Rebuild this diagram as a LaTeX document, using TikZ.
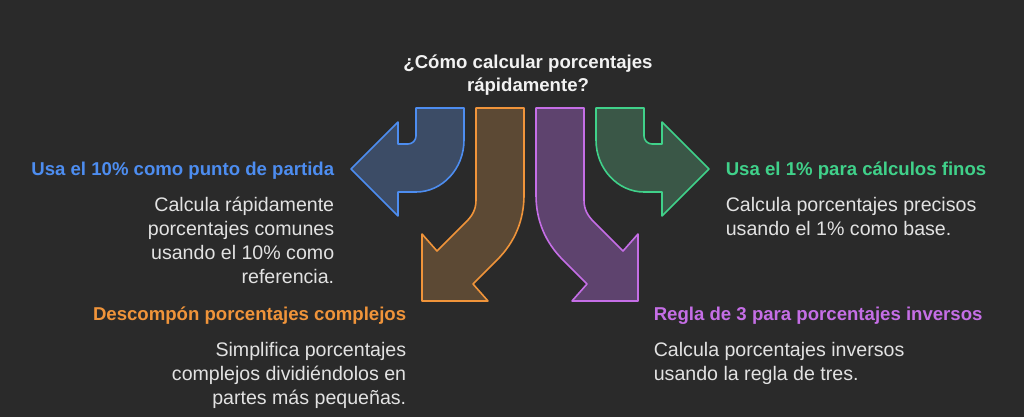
\documentclass[tikz,border=0pt]{standalone}
\usepackage{fontspec}
\setmainfont{Liberation Sans}
\definecolor{bg}{HTML}{2A2A2A}
\definecolor{titlegray}{HTML}{F2F2F2}
\definecolor{bodygray}{HTML}{E2E2E2}
\definecolor{tenblue}{HTML}{4D8DF0}
\definecolor{tenbluefill}{HTML}{3C4C66}
\definecolor{splitorange}{HTML}{F0943A}
\definecolor{splitorangefill}{HTML}{5C4934}
\definecolor{rulepurple}{HTML}{C56EE6}
\definecolor{rulepurplefill}{HTML}{5E436E}
\definecolor{onegreen}{HTML}{40D18A}
\definecolor{onegreenfill}{HTML}{3A5747}
\begin{document}
\begin{tikzpicture}[x=1pt, y=-1pt, every node/.style = {inner sep=0pt, align=left, font=\fontsize{19.6}{24}\selectfont}, line width=1.6pt, line join=round]
	\tikzstyle{head} = [font=\fontsize{18.6}{23.4}\selectfont\bfseries]
	\tikzstyle{body} = [text=bodygray]
	\tikzstyle{tenarrow} = [draw=tenblue, fill=tenbluefill]
	\tikzstyle{splitarrow} = [draw=splitorange, fill=splitorangefill]
	\tikzstyle{rulearrow} = [draw=rulepurple, fill=rulepurplefill]
	\tikzstyle{onearrow} = [draw=onegreen, fill=onegreenfill]
	\fill[bg] (0,0) rectangle (1024,417);
	\path[tenarrow] (464,108) -- (416,108) -- (416,136) .. controls (416,140.4) and (412.4,144) .. (408,144) -- (398,144) -- (398,122) -- (351,169) -- (398,216) -- (398,192) -- (416,192) .. controls (442,192) and (464,169) .. (464,140) -- cycle;
	\path[onearrow] (596,108) -- (644,108) -- (644,136) .. controls (644,140.4) and (647.6,144) .. (652,144) -- (662,144) -- (662,122) -- (709,169) -- (662,216) -- (662,192) -- (644,192) .. controls (618,192) and (596,169) .. (596,140) -- cycle;
	\path[splitarrow] (476,108) -- (524,108) -- (524,195) .. controls (524,220) and (515,242) .. (497,260) -- (473,284) -- (488,301) -- (422,301) -- (422,234) -- (437,251) -- (466,222) .. controls (472,216) and (476,210) .. (476,200) -- cycle;
	\path[rulearrow] (584,108) -- (536,108) -- (536,195) .. controls (536,220) and (545,242) .. (563,260) -- (587,284) -- (572,301) -- (638,301) -- (638,234) -- (623,251) -- (594,222) .. controls (588,216) and (584,210) .. (584,200) -- cycle;
	\node[head, text=titlegray, align=center, anchor=base] (title) at (528,91.7) {¿Cómo calcular porcentajes\\rápidamente?};
	\node[head, text=tenblue, anchor=base east] (tenhead) at (335,175.7) {Usa el 10\% como punto de partida};
	\node[body, align=right, anchor=base east] (tenbody) at (335,283.7) {Calcula rápidamente\\porcentajes comunes\\usando el 10\% como\\referencia.};
	\node[head, text=splitorange, anchor=base east] (splithead) at (407,320) {Descompón porcentajes complejos};
	\node[body, align=right, anchor=base east] (splitbody) at (407,404.7) {Simplifica porcentajes\\complejos dividiéndolos en\\partes más pequeñas.};
	\node[head, text=onegreen, anchor=base west] (onehead) at (725,175.7) {Usa el 1\% para cálculos finos};
	\node[body, anchor=base west] (onebody) at (725,235.7) {Calcula porcentajes precisos\\usando el 1\% como base.};
	\node[head, text=rulepurple, anchor=base west] (rulehead) at (653,320) {Regla de 3 para porcentajes inversos};
	\node[body, anchor=base west] (rulebody) at (653,380) {Calcula porcentajes inversos\\usando la regla de tres.};
\end{tikzpicture}
\end{document}
